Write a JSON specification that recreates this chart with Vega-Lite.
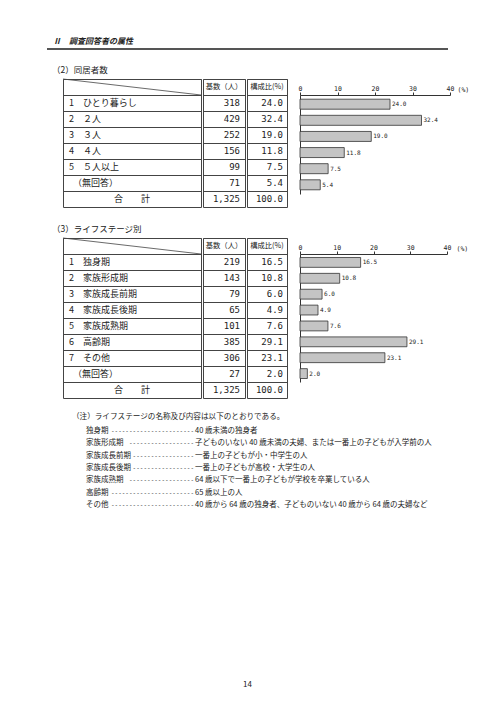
{
  "$schema": "https://vega.github.io/schema/vega-lite/v6.json",
  "background": "white",
  "padding": {"left": 47, "top": 38, "right": 0, "bottom": 0},
  "spacing": 0,
  "config": {
    "font": "Noto Sans CJK JP",
    "view": {"stroke": null},
    "title": {"font": "Noto Sans CJK JP", "fontWeight": "normal", "color": "#222"},
    "text": {"color": "#222"}
  },
  "datasets": {
    "living": [
      {"key": "1", "name": "ひとり暮らし", "n": 318, "pct": 24.0, "kind": "item"},
      {"key": "2", "name": "２人", "n": 429, "pct": 32.4, "kind": "item"},
      {"key": "3", "name": "３人", "n": 252, "pct": 19.0, "kind": "item"},
      {"key": "4", "name": "４人", "n": 156, "pct": 11.8, "kind": "item"},
      {"key": "5", "name": "５人以上", "n": 99, "pct": 7.5, "kind": "item"},
      {"key": "na", "name": "（無回答）", "n": 71, "pct": 5.4, "kind": "na"},
      {"key": "total", "name": "合　　計", "n": 1325, "pct": 100.0, "kind": "total"}
    ],
    "stage": [
      {"key": "1", "name": "独身期", "n": 219, "pct": 16.5, "kind": "item"},
      {"key": "2", "name": "家族形成期", "n": 143, "pct": 10.8, "kind": "item"},
      {"key": "3", "name": "家族成長前期", "n": 79, "pct": 6.0, "kind": "item"},
      {"key": "4", "name": "家族成長後期", "n": 65, "pct": 4.9, "kind": "item"},
      {"key": "5", "name": "家族成熟期", "n": 101, "pct": 7.6, "kind": "item"},
      {"key": "6", "name": "高齢期", "n": 385, "pct": 29.1, "kind": "item"},
      {"key": "7", "name": "その他", "n": 306, "pct": 23.1, "kind": "item"},
      {"key": "na", "name": "（無回答）", "n": 27, "pct": 2.0, "kind": "na"},
      {"key": "total", "name": "合　　計", "n": 1325, "pct": 100.0, "kind": "total"}
    ],
    "notes": [
      {"stage": "独身期", "dash": "-----------------------", "desc": "40 歳未満の独身者"},
      {"stage": "家族形成期", "dash": "------------------", "desc": "子どものいない 40 歳未満の夫婦、または一番上の子どもが入学前の人"},
      {"stage": "家族成長前期", "dash": "-----------------", "desc": "一番上の子どもが小・中学生の人"},
      {"stage": "家族成長後期", "dash": "-----------------", "desc": "一番上の子どもが高校・大学生の人"},
      {"stage": "家族成熟期", "dash": "------------------", "desc": "64 歳以下で一番上の子どもが学校を卒業している人"},
      {"stage": "高齢期", "dash": "-----------------------", "desc": "65 歳以上の人"},
      {"stage": "その他", "dash": "-----------------------", "desc": "40 歳から 64 歳の独身者、子どものいない 40 歳から 64 歳の夫婦など"}
    ]
  },
  "vconcat": [
    {
      "width": 401, "height": 2,
      "view": {"fill": "#555", "stroke": null},
      "title": {"text": "Ⅱ　調査回答者の属性", "anchor": "start", "dx": 6, "fontSize": 8, "fontStyle": "italic", "fontWeight": "bold", "offset": 2},
      "data": {"values": []},
      "mark": "rect"
    },
    {"width": 1, "height": 15, "data": {"values": []}, "mark": "rect"},
    {
      "title": {"text": "（2）同居者数", "anchor": "start", "dx": 5, "fontSize": 8.5, "offset": 4},
      "spacing": 14,
      "hconcat": [
        {"width": 1, "height": 1, "data": {"values": []}, "mark": "rect"},
        {
          "spacing": 10,
          "hconcat": [
            {
              "spacing": 0,
              "hconcat": [
                {
                  "width": 138, "height": 128,
                  "view": {"stroke": "#444"},
                  "data": {"name": "living"},
                  "encoding": {
                    "y": {"field": "key", "type": "ordinal",
                      "scale": {"type": "band", "domain": ["head", "1", "2", "3", "4", "5", "na", "total"], "paddingInner": 0, "paddingOuter": 0},
                      "axis": {"bandPosition": 0, "grid": true, "gridColor": "#444", "labels": false, "ticks": false, "domain": false, "title": null}},
                    "x": {"datum": 0, "type": "quantitative", "scale": {"domain": [0, 1]}, "axis": null}
                  },
                  "layer": [
                    {"transform": [{"filter": "datum.kind == 'item'"}], "mark": {"type": "text", "align": "left", "dx": 6, "fontSize": 9}, "encoding": {"text": {"field": "key"}}},
                    {"transform": [{"filter": "datum.kind == 'item'"}], "mark": {"type": "text", "align": "left", "dx": 20, "fontSize": 9}, "encoding": {"text": {"field": "name"}}},
                    {"transform": [{"filter": "datum.kind == 'na'"}], "mark": {"type": "text", "align": "left", "dx": 10, "fontSize": 9}, "encoding": {"text": {"field": "name"}}},
                    {"transform": [{"filter": "datum.kind == 'total'"}], "mark": {"type": "text", "align": "center", "fontSize": 9}, "encoding": {"x": {"datum": 0.5}, "text": {"field": "name"}}},
                    {"data": {"values": [{"k": "head"}]}, "mark": {"type": "rule", "color": "#444", "strokeWidth": 0.8},
                      "encoding": {"y": {"datum": "head", "bandPosition": 0}, "y2": {"datum": "1", "bandPosition": 0}, "x": {"datum": 0}, "x2": {"datum": 1}}}
                  ]
                },
                {
                  "width": 42, "height": 128,
                  "view": {"stroke": "#444"},
                  "data": {"name": "living"},
                  "encoding": {
                    "y": {"field": "key", "type": "ordinal",
                      "scale": {"type": "band", "domain": ["head", "1", "2", "3", "4", "5", "na", "total"], "paddingInner": 0, "paddingOuter": 0},
                      "axis": {"bandPosition": 0, "grid": true, "gridColor": "#444", "labels": false, "ticks": false, "domain": false, "title": null}},
                    "x": {"datum": 1, "type": "quantitative", "scale": {"domain": [0, 1]}, "axis": null}
                  },
                  "layer": [
                    {"mark": {"type": "text", "align": "right", "dx": -5, "font": "DejaVu Sans Mono", "fontSize": 9}, "encoding": {"text": {"field": "n", "type": "quantitative", "format": ","}}},
                    {"data": {"values": [{"h": "基数（人）"}]}, "mark": {"type": "text", "align": "center", "fontSize": 7.3}, "encoding": {"y": {"datum": "head"}, "x": {"datum": 0.5}, "text": {"field": "h"}}}
                  ]
                },
                {
                  "width": 40, "height": 128,
                  "view": {"stroke": "#444"},
                  "data": {"name": "living"},
                  "encoding": {
                    "y": {"field": "key", "type": "ordinal",
                      "scale": {"type": "band", "domain": ["head", "1", "2", "3", "4", "5", "na", "total"], "paddingInner": 0, "paddingOuter": 0},
                      "axis": {"bandPosition": 0, "grid": true, "gridColor": "#444", "labels": false, "ticks": false, "domain": false, "title": null}},
                    "x": {"datum": 1, "type": "quantitative", "scale": {"domain": [0, 1]}, "axis": null}
                  },
                  "layer": [
                    {"mark": {"type": "text", "align": "right", "dx": -4, "font": "DejaVu Sans Mono", "fontSize": 9}, "encoding": {"text": {"field": "pct", "type": "quantitative", "format": ".1f"}}},
                    {"data": {"values": [{"h": "構成比(%)"}]}, "mark": {"type": "text", "align": "center", "fontSize": 7.3}, "encoding": {"y": {"datum": "head"}, "x": {"datum": 0.5}, "text": {"field": "h"}}}
                  ]
                }
              ]
            },
            {
              "spacing": 0,
              "bounds": "flush",
              "vconcat": [
                {"width": 150, "height": 16, "data": {"values": []}, "mark": "rect"},
                {
                  "width": 150, "height": 99,
                  "data": {"name": "living"},
                  "transform": [{"filter": "datum.kind != 'total'"}],
                  "encoding": {
                    "y": {"field": "key", "type": "ordinal",
                      "scale": {"domain": ["1", "2", "3", "4", "5", "na"], "paddingInner": 0.38, "paddingOuter": 0.26},
                      "axis": {"labels": false, "ticks": false, "title": null, "grid": false, "domainColor": "#333"}},
                    "x": {"field": "pct", "type": "quantitative", "scale": {"domain": [0, 40], "nice": false},
                      "axis": {"orient": "top", "values": [0, 10, 20, 30, 40], "grid": false, "tickSize": 3, "tickColor": "#333", "domainColor": "#333",
                        "labelFont": "DejaVu Sans Mono", "labelFontSize": 6.5, "labelPadding": 1, "labelColor": "#222", "labelFlush": false,
                        "title": "(%)", "titleFont": "DejaVu Sans Mono", "titleFontSize": 6.5, "titleFontWeight": "normal", "titleColor": "#222",
                        "titleAngle": 0, "titleAlign": "left", "titleBaseline": "alphabetic", "titleX": 157, "titleY": -4}}
                  },
                  "layer": [
                    {"mark": {"type": "bar", "fill": "#c4c4c4", "stroke": "#333", "strokeWidth": 0.8}},
                    {"mark": {"type": "text", "align": "left", "dx": 2, "font": "DejaVu Sans Mono", "fontSize": 6}, "encoding": {"text": {"field": "pct", "type": "quantitative", "format": ".1f"}}}
                  ]
                }
              ]
            }
          ]
        }
      ]
    },
    {"width": 1, "height": 16, "data": {"values": []}, "mark": "rect"},
    {
      "title": {"text": "（3）ライフステージ別", "anchor": "start", "dx": 5, "fontSize": 8.5, "offset": 4},
      "spacing": 14,
      "hconcat": [
        {"width": 1, "height": 1, "data": {"values": []}, "mark": "rect"},
        {
          "spacing": 10,
          "hconcat": [
            {
              "spacing": 0,
              "hconcat": [
                {
                  "width": 138, "height": 160,
                  "view": {"stroke": "#444"},
                  "data": {"name": "stage"},
                  "encoding": {
                    "y": {"field": "key", "type": "ordinal",
                      "scale": {"type": "band", "domain": ["head", "1", "2", "3", "4", "5", "6", "7", "na", "total"], "paddingInner": 0, "paddingOuter": 0},
                      "axis": {"bandPosition": 0, "grid": true, "gridColor": "#444", "labels": false, "ticks": false, "domain": false, "title": null}},
                    "x": {"datum": 0, "type": "quantitative", "scale": {"domain": [0, 1]}, "axis": null}
                  },
                  "layer": [
                    {"transform": [{"filter": "datum.kind == 'item'"}], "mark": {"type": "text", "align": "left", "dx": 6, "fontSize": 9}, "encoding": {"text": {"field": "key"}}},
                    {"transform": [{"filter": "datum.kind == 'item'"}], "mark": {"type": "text", "align": "left", "dx": 20, "fontSize": 9}, "encoding": {"text": {"field": "name"}}},
                    {"transform": [{"filter": "datum.kind == 'na'"}], "mark": {"type": "text", "align": "left", "dx": 10, "fontSize": 9}, "encoding": {"text": {"field": "name"}}},
                    {"transform": [{"filter": "datum.kind == 'total'"}], "mark": {"type": "text", "align": "center", "fontSize": 9}, "encoding": {"x": {"datum": 0.5}, "text": {"field": "name"}}},
                    {"data": {"values": [{"k": "head"}]}, "mark": {"type": "rule", "color": "#444", "strokeWidth": 0.8},
                      "encoding": {"y": {"datum": "head", "bandPosition": 0}, "y2": {"datum": "1", "bandPosition": 0}, "x": {"datum": 0}, "x2": {"datum": 1}}}
                  ]
                },
                {
                  "width": 42, "height": 160,
                  "view": {"stroke": "#444"},
                  "data": {"name": "stage"},
                  "encoding": {
                    "y": {"field": "key", "type": "ordinal",
                      "scale": {"type": "band", "domain": ["head", "1", "2", "3", "4", "5", "6", "7", "na", "total"], "paddingInner": 0, "paddingOuter": 0},
                      "axis": {"bandPosition": 0, "grid": true, "gridColor": "#444", "labels": false, "ticks": false, "domain": false, "title": null}},
                    "x": {"datum": 1, "type": "quantitative", "scale": {"domain": [0, 1]}, "axis": null}
                  },
                  "layer": [
                    {"mark": {"type": "text", "align": "right", "dx": -5, "font": "DejaVu Sans Mono", "fontSize": 9}, "encoding": {"text": {"field": "n", "type": "quantitative", "format": ","}}},
                    {"data": {"values": [{"h": "基数（人）"}]}, "mark": {"type": "text", "align": "center", "fontSize": 7.3}, "encoding": {"y": {"datum": "head"}, "x": {"datum": 0.5}, "text": {"field": "h"}}}
                  ]
                },
                {
                  "width": 40, "height": 160,
                  "view": {"stroke": "#444"},
                  "data": {"name": "stage"},
                  "encoding": {
                    "y": {"field": "key", "type": "ordinal",
                      "scale": {"type": "band", "domain": ["head", "1", "2", "3", "4", "5", "6", "7", "na", "total"], "paddingInner": 0, "paddingOuter": 0},
                      "axis": {"bandPosition": 0, "grid": true, "gridColor": "#444", "labels": false, "ticks": false, "domain": false, "title": null}},
                    "x": {"datum": 1, "type": "quantitative", "scale": {"domain": [0, 1]}, "axis": null}
                  },
                  "layer": [
                    {"mark": {"type": "text", "align": "right", "dx": -4, "font": "DejaVu Sans Mono", "fontSize": 9}, "encoding": {"text": {"field": "pct", "type": "quantitative", "format": ".1f"}}},
                    {"data": {"values": [{"h": "構成比(%)"}]}, "mark": {"type": "text", "align": "center", "fontSize": 7.3}, "encoding": {"y": {"datum": "head"}, "x": {"datum": 0.5}, "text": {"field": "h"}}}
                  ]
                }
              ]
            },
            {
              "spacing": 0,
              "bounds": "flush",
              "vconcat": [
                {"width": 147, "height": 16, "data": {"values": []}, "mark": "rect"},
                {
                  "width": 147, "height": 128,
                  "data": {"name": "stage"},
                  "transform": [{"filter": "datum.kind != 'total'"}],
                  "encoding": {
                    "y": {"field": "key", "type": "ordinal",
                      "scale": {"domain": ["1", "2", "3", "4", "5", "6", "7", "na"], "paddingInner": 0.38, "paddingOuter": 0.22},
                      "axis": {"labels": false, "ticks": false, "title": null, "grid": false, "domainColor": "#333"}},
                    "x": {"field": "pct", "type": "quantitative", "scale": {"domain": [0, 40], "nice": false},
                      "axis": {"orient": "top", "values": [0, 10, 20, 30, 40], "grid": false, "tickSize": 3, "tickColor": "#333", "domainColor": "#333",
                        "labelFont": "DejaVu Sans Mono", "labelFontSize": 6.5, "labelPadding": 1, "labelColor": "#222", "labelFlush": false,
                        "title": "(%)", "titleFont": "DejaVu Sans Mono", "titleFontSize": 6.5, "titleFontWeight": "normal", "titleColor": "#222",
                        "titleAngle": 0, "titleAlign": "left", "titleBaseline": "alphabetic", "titleX": 156, "titleY": -4}}
                  },
                  "layer": [
                    {"mark": {"type": "bar", "fill": "#c4c4c4", "stroke": "#333", "strokeWidth": 0.8}},
                    {"mark": {"type": "text", "align": "left", "dx": 2, "font": "DejaVu Sans Mono", "fontSize": 6}, "encoding": {"text": {"field": "pct", "type": "quantitative", "format": ".1f"}}}
                  ]
                }
              ]
            }
          ]
        }
      ]
    },
    {"width": 1, "height": 14, "data": {"values": []}, "mark": "rect"},
    {
      "spacing": 24,
      "hconcat": [
        {"width": 1, "height": 1, "data": {"values": []}, "mark": "rect"},
        {
          "width": 360, "height": 86,
          "title": {"text": "（注）ライフステージの名称及び内容は以下のとおりである。", "anchor": "start", "fontSize": 7.6, "offset": 4},
          "data": {"name": "notes"},
          "encoding": {
            "y": {"field": "stage", "type": "nominal", "sort": null, "axis": null},
            "x": {"datum": 0, "type": "quantitative", "scale": {"domain": [0, 1]}, "axis": null}
          },
          "layer": [
            {"mark": {"type": "text", "align": "left", "dx": 14, "fontSize": 7.5}, "encoding": {"text": {"field": "stage"}}},
            {"mark": {"type": "text", "align": "right", "dx": 122, "font": "DejaVu Sans Mono", "fontSize": 6}, "encoding": {"text": {"field": "dash"}}},
            {"mark": {"type": "text", "align": "left", "dx": 123, "fontSize": 7.5}, "encoding": {"text": {"field": "desc"}}}
          ]
        }
      ]
    },
    {"width": 1, "height": 170, "data": {"values": []}, "mark": "rect"},
    {
      "width": 401, "height": 1,
      "title": {"text": "14", "anchor": "middle", "fontSize": 8, "offset": 0},
      "data": {"values": []},
      "mark": "rect"
    }
  ]
}
